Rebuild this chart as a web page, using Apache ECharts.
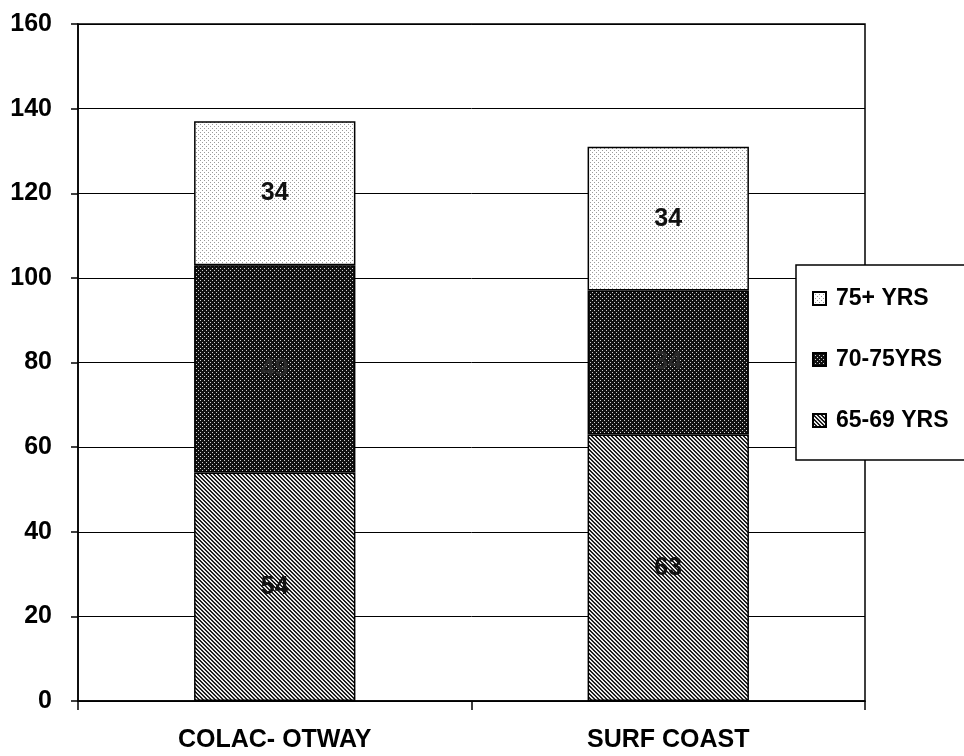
<!DOCTYPE html>
<html><head><meta charset="utf-8">
<script src="https://cdn.jsdelivr.net/npm/echarts@6/dist/echarts.min.js"></script>
<style>html,body{margin:0;padding:0;background:#fff}#c{width:964px;height:756px}</style>
</head><body><div id="c"></div>
<script>
const categories = ['COLAC- OTWAY', 'SURF COAST'];
const seriesNames = ['65-69 YRS', '70-75YRS', '75+ YRS'];
const v6569 = [54, 63];
const v7075 = [49, 34];
const v75plus = [34, 34];
const yTicks = [0, 20, 40, 60, 80, 100, 120, 140, 160];

function pattern(kind) {
  const c = document.createElement('canvas');
  c.width = 4; c.height = 4;
  const g = c.getContext('2d');
  if (kind === 'light') {
    g.fillStyle = '#fff'; g.fillRect(0, 0, 4, 4);
    g.fillStyle = '#9a9a9a'; g.fillRect(0, 0, 1, 1); g.fillRect(2, 2, 1, 1);
  } else if (kind === 'dark') {
    g.fillStyle = '#111'; g.fillRect(0, 0, 4, 4);
    g.fillStyle = '#d0d0d0'; g.fillRect(0, 0, 1, 1); g.fillRect(2, 2, 1, 1);
  } else {
    g.fillStyle = '#eaeaea'; g.fillRect(0, 0, 4, 4);
    g.fillStyle = '#1e1e1e';
    for (let i = 0; i < 4; i++) { g.fillRect(i, i % 4, 1, 1); g.fillRect(i, (i + 1) % 4, 1, 1); }
  }
  return { image: c, repeat: 'repeat' };
}

const fills = [pattern('hatch'), pattern('dark'), pattern('light')];
const values = [v6569, v7075, v75plus];
const labelColors = ['#111', '#2a2a2a', '#111'];
const FONT = '"Liberation Sans", Arial, sans-serif';

const chart = echarts.init(document.getElementById('c'), null, { renderer: 'canvas' });
chart.setOption({
  backgroundColor: '#fff',
  animation: false,
  grid: { left: 78, right: 99, top: 24, bottom: 55, show: true, borderColor: '#000', borderWidth: 1.5, backgroundColor: 'transparent' },
  legend: {
    orient: 'vertical', left: 796, top: 265,
    data: ['75+ YRS', '70-75YRS', '65-69 YRS'],
    backgroundColor: '#fff', borderColor: '#000', borderWidth: 1.5,
    padding: [22, 30, 28, 16], itemGap: 38,
    itemWidth: 13, itemHeight: 13, icon: 'rect',
    textStyle: { fontFamily: FONT, fontWeight: 'bold', fontSize: 23, color: '#000', padding: [0, 0, 0, 5] }
  },
  xAxis: {
    type: 'category', data: categories,
    axisLine: { lineStyle: { color: '#000', width: 1.5 } },
    axisTick: { show: true, length: 9, lineStyle: { color: '#000', width: 1.5 } },
    axisLabel: { fontFamily: FONT, fontWeight: 'bold', fontSize: 25, color: '#000', margin: 27 }
  },
  yAxis: {
    type: 'value', min: yTicks[0], max: yTicks[yTicks.length - 1], interval: 20,
    axisLine: { show: true, lineStyle: { color: '#000', width: 1.5 } },
    axisTick: { show: true, length: 7, lineStyle: { color: '#000', width: 1.5 } },
    splitLine: { show: true, lineStyle: { color: '#000', width: 1 } },
    axisLabel: { fontFamily: FONT, fontWeight: 'bold', fontSize: 25, color: '#000', margin: 26 }
  },
  series: seriesNames.map((n, i) => ({
    name: n, type: 'bar', stack: 'total', data: values[i], barWidth: '41%',
    itemStyle: { color: fills[i], borderColor: '#000', borderWidth: 1.5 },
    label: { show: true, position: 'inside', fontFamily: FONT, fontWeight: 'bold', fontSize: 25, color: labelColors[i] }
  }))
});
</script></body></html>
